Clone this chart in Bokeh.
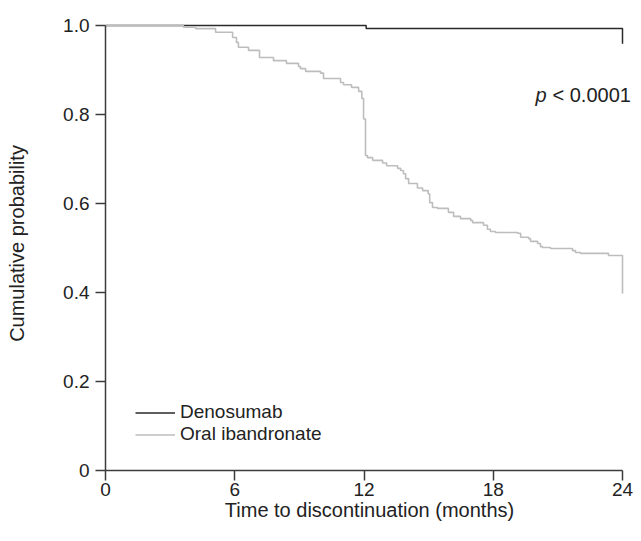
from bokeh.plotting import figure
from bokeh.models import Range1d, FixedTicker, Label, Legend, LegendItem
from bokeh.embed import file_html
from bokeh.resources import INLINE

# ---- data ----
series_names = ["Denosumab", "Oral ibandronate"]

den_time = [0.0, 12.1, 24.0]
den_surv = [1.0, 0.993, 0.959]

ib_time = [0.0, 3.62, 4.18, 5.11, 5.90, 6.08, 6.17, 6.64, 7.15, 7.80,
           8.40, 8.96, 9.05, 9.29, 9.98, 10.12, 10.91, 11.05, 11.42, 11.75,
           11.90, 11.98, 12.07, 12.16, 12.40, 12.86, 13.05, 13.56, 13.70, 13.83,
           13.93, 14.07, 14.48, 14.72, 14.98, 15.05, 15.18, 15.41, 15.92, 16.16,
           16.48, 16.95, 17.04, 17.55, 17.73, 17.87, 18.10, 19.13, 19.27, 19.64,
           19.73, 20.06, 20.19, 20.29, 20.66, 21.68, 21.82, 22.05, 23.35, 24.0,
           24.0]
ib_surv = [1.0, 0.996, 0.993, 0.985, 0.973, 0.962, 0.951, 0.944, 0.928, 0.921,
           0.915, 0.908, 0.903, 0.897, 0.893, 0.881, 0.872, 0.867, 0.861, 0.852,
           0.836, 0.790, 0.708, 0.703, 0.697, 0.691, 0.685, 0.679, 0.674, 0.667,
           0.656, 0.645, 0.635, 0.629, 0.622, 0.602, 0.591, 0.589, 0.580, 0.571,
           0.566, 0.562, 0.557, 0.551, 0.542, 0.537, 0.535, 0.533, 0.524, 0.521,
           0.515, 0.510, 0.503, 0.501, 0.499, 0.494, 0.490, 0.488, 0.483, 0.461,
           0.398]

x_ticks = [0, 6, 12, 18, 24]
x_tick_labels = ["0", "6", "12", "18", "24"]
y_ticks = [0, 0.2, 0.4, 0.6, 0.8, 1.0]
y_tick_labels = ["0", "0.2", "0.4", "0.6", "0.8", "1.0"]

x_title = "Time to discontinuation (months)"
y_title = "Cumulative probability"
p_text_italic = "p"
p_text_rest = "< 0.0001"

# ---- layout ----
FONT = "Liberation Sans"
FS = "19px"
FS_T = "20px"
TXT = "#222222"
AX = "#3c3c3c"

W, H = 633, 525
LEFT, RIGHT, TOP, BOTTOM = 105, 0, 16, 55
PX_PER_MONTH = 517 / 24.0
PX_PER_UNIT = 445.0
frame_w = W - LEFT - RIGHT
frame_h = H - TOP - BOTTOM

p = figure(width=W, height=H, output_backend="svg", toolbar_location=None,
           x_range=Range1d(0, frame_w / PX_PER_MONTH),
           y_range=Range1d(0, frame_h / PX_PER_UNIT),
           min_border_left=LEFT, min_border_right=RIGHT,
           min_border_top=TOP, min_border_bottom=BOTTOM)
p.outline_line_color = None
p.xgrid.grid_line_color = None
p.ygrid.grid_line_color = None
p.background_fill_color = "white"
p.border_fill_color = "white"

r_den = p.step(den_time, den_surv, mode="after", line_color="#2a2a2a", line_width=1.5)
r_ib = p.step(ib_time, ib_surv, mode="after", line_color="#bdbdbd", line_width=1.6)

for ax, ticks, labels in ((p.xaxis[0], x_ticks, x_tick_labels), (p.yaxis[0], y_ticks, y_tick_labels)):
    ax.ticker = FixedTicker(ticks=ticks, minor_ticks=[])
    ax.major_label_overrides = {t: l for t, l in zip(ticks, labels)}
    ax.axis_line_color = AX
    ax.axis_line_width = 1.5
    ax.major_tick_line_color = AX
    ax.major_tick_line_width = 1.5
    ax.major_tick_in = 0
    ax.major_tick_out = 10
    ax.minor_tick_line_color = None
    ax.major_label_text_font = FONT
    ax.major_label_text_font_size = FS
    ax.major_label_text_color = TXT
    ax.axis_label_text_font = FONT
    ax.axis_label_text_font_size = FS_T
    ax.axis_label_text_font_style = "normal"
    ax.axis_label_text_color = TXT

p.xaxis.bounds = (x_ticks[0], x_ticks[-1])
p.yaxis.bounds = (y_ticks[0], y_ticks[-1])
p.xaxis.axis_label = x_title
p.yaxis.axis_label = y_title
p.xaxis.major_label_standoff = 2
p.xaxis.axis_label_standoff = 0
p.yaxis.major_label_standoff = 6
p.yaxis.axis_label_standoff = 32

legend = Legend(items=[LegendItem(label=series_names[0], renderers=[r_den]),
                       LegendItem(label=series_names[1], renderers=[r_ib])],
                location=(30, 25), padding=0, margin=0, spacing=0,
                glyph_width=40, glyph_height=21, label_height=21, label_standoff=5,
                label_text_font=FONT, label_text_font_size=FS, label_text_color=TXT,
                border_line_color=None, background_fill_alpha=0)
p.add_layout(legend)

px_x = (535 - LEFT) / PX_PER_MONTH
px_y = (H - BOTTOM - 94) / PX_PER_UNIT
p.add_layout(Label(x=px_x, y=px_y, text=p_text_italic, text_font=FONT, text_font_size=FS_T,
                   text_font_style="italic", text_color=TXT, text_baseline="alphabetic"))
p.add_layout(Label(x=px_x, y=px_y, x_offset=17, text=p_text_rest, text_font=FONT,
                   text_font_size=FS_T, text_color=TXT, text_baseline="alphabetic"))

open("out.html", "w").write(file_html(p, INLINE))
